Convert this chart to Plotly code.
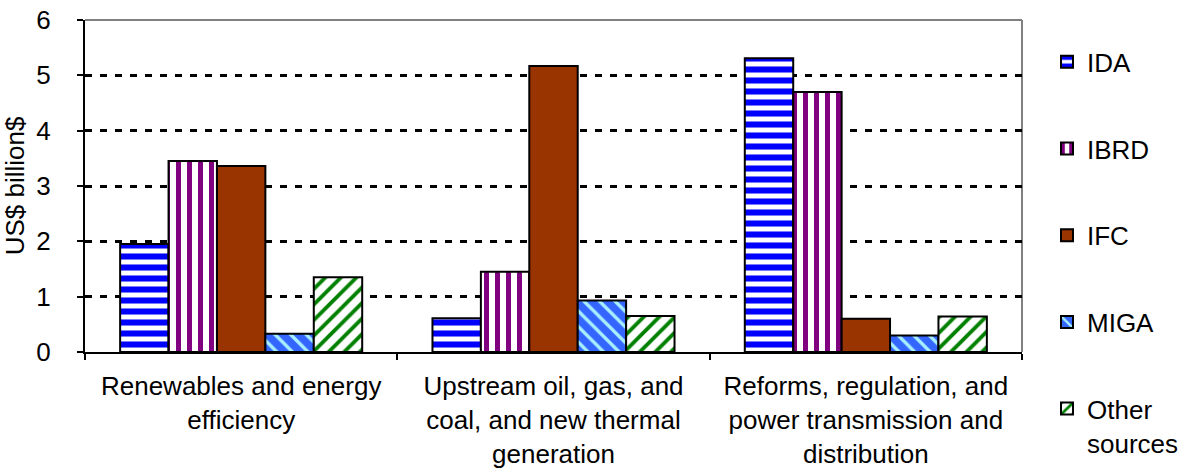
import plotly.graph_objects as go

categories = [
    "Renewables and energy<br>efficiency",
    "Upstream oil, gas, and<br>coal, and new thermal<br>generation",
    "Reforms, regulation, and<br>power transmission and<br>distribution",
]
ida = [1.95, 0.61, 5.31]
ibrd = [3.45, 1.45, 4.70]
ifc = [3.36, 5.17, 0.60]
miga = [0.33, 0.93, 0.30]
other = [1.35, 0.65, 0.64]

FONT = "Liberation Sans, Arial, sans-serif"
FS = 26

series = [
    ("IDA", ida, dict(shape="-", fgcolor="#0000FF", bgcolor="#FFFFFF", size=11, solidity=0.55, fillmode="replace"), "legend"),
    ("IBRD", ibrd, dict(shape="|", fgcolor="#800080", bgcolor="#FFFFFF", size=11, solidity=0.45, fillmode="replace"), "legend"),
    ("IFC", ifc, None, "legend"),
    ("MIGA", miga, dict(shape="\\", fgcolor="#A8F0FF", bgcolor="#3366FF", size=11, solidity=0.3, fillmode="replace"), "legend"),
    ("Other<br>sources", other, dict(shape="/", fgcolor="#008000", bgcolor="#FFFFFF", size=11, solidity=0.35, fillmode="replace"), "legend2"),
]

fig = go.Figure()
for i, (name, vals, pat, leg) in enumerate(series):
    marker = dict(line=dict(color="#000000", width=2))
    if pat is None:
        marker["color"] = "#993300"
    else:
        marker["color"] = "#FFFFFF"
        marker["pattern"] = pat
    fig.add_trace(go.Bar(
        x=categories, y=vals, name=name, marker=marker,
        legendgroup=f"g{i}", legend=leg,
    ))

legend_common = dict(
    xanchor="left", yanchor="top",
    font=dict(family=FONT, size=FS, color="#000000"),
    valign="top", bgcolor="rgba(0,0,0,0)",
)

fig.update_layout(
    width=1183, height=470,
    margin=dict(l=85, r=161, t=20, b=118, autoexpand=False),
    paper_bgcolor="#FFFFFF", plot_bgcolor="#FFFFFF",
    font=dict(family=FONT, size=FS, color="#000000"),
    barmode="group", bargap=0.225, bargroupgap=0,
    legend=dict(x=1.0267, y=0.945, tracegroupgap=50, **legend_common),
    legend2=dict(x=1.0267, y=-0.10, **legend_common),
    showlegend=True,
)
fig.update_xaxes(
    showline=True, linecolor="#000000", linewidth=2,
    ticks="outside", tickson="boundaries", ticklen=6, tickcolor="#000000", tickwidth=2,
    showgrid=False, tickfont=dict(family=FONT, size=FS), ticklabelstandoff=10,
    ticklabeloverflow="allow",
)
fig.update_yaxes(
    range=[0, 6], dtick=1, showline=True, linecolor="#000000", linewidth=2,
    ticks="outside", ticklen=6, tickcolor="#000000", tickwidth=2,
    showgrid=True, gridcolor="#000000", gridwidth=3, griddash="7px,8px",
    zeroline=False, tickfont=dict(family=FONT, size=FS), ticklabelstandoff=21,
    ticklabeloverflow="allow",
    title=dict(text="US$ billion$", font=dict(family=FONT, size=FS), standoff=16),
)
# plot-area frame (top and right), grey as in the original
fig.add_shape(type="line", xref="paper", yref="paper", x0=0, x1=1, y0=1, y1=1,
              line=dict(color="#808080", width=2), layer="below")
fig.add_shape(type="line", xref="paper", yref="paper", x0=1, x1=1, y0=0, y1=1,
              line=dict(color="#808080", width=2), layer="below")

# remove the browser's default 8px page margin so the figure fills the window
fig.write_html("out.html", config={"displayModeBar": False},
               post_script="document.body.style.margin='0px';")
